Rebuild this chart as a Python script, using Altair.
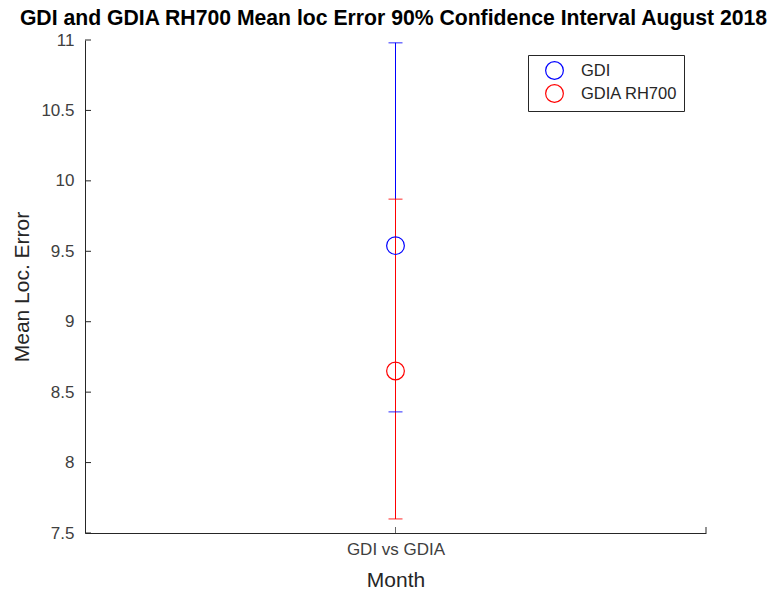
import altair as alt
import pandas as pd

series = ["GDI", "GDIA RH700"]
means = [9.54, 8.65]
lows = [8.36, 7.60]
highs = [10.98, 9.87]
category = "GDI vs GDIA"
y_ticks = [7.5, 8, 8.5, 9, 9.5, 10, 10.5, 11]
colors = ["#0000FF", "#FF0000"]

df = pd.DataFrame({
    "series": series,
    "mean": means,
    "lo": lows,
    "hi": highs,
    "cat": [category] * len(series),
})
ticks_df = pd.DataFrame({"v": y_ticks})

ink = "#262626"
font = "Liberation Sans"
W, H = 621, 493
yscale = alt.Scale(domain=[7.5, 11], nice=False, zero=False)
color_leg = alt.Color("series:N", scale=alt.Scale(domain=series, range=colors),
                      legend=alt.Legend(title=None, orient="none", legendX=443, legendY=15,
                                        strokeColor=ink, fillColor="white", padding=6,
                                        symbolType="circle", symbolSize=314, symbolStrokeWidth=1.2,
                                        labelFontSize=16.5, labelFont=font,
                                        labelColor=ink, rowPadding=0, symbolOffset=11,
                                        labelOffset=17, labelLimit=200))

xenc = alt.X("cat:N", title="Month", scale=alt.Scale(type="point"),
             axis=alt.Axis(labelAngle=0, labelAlign="center", labelPadding=16, titlePadding=12))
yenc = alt.Y("lo:Q", scale=yscale, title="Mean Loc. Error",
             axis=alt.Axis(values=y_ticks, format="~g", labelPadding=11, titlePadding=8))

base = alt.Chart(df)
err_layers = []
for s, c in zip(series, colors):
    sub = base.transform_filter(alt.datum.series == s)
    err_layers.append(sub.mark_bar(size=1, color=c, fill=c, stroke=None).encode(
        x=xenc, y=yenc, y2="hi:Q"))
for s, c in zip(series, colors):
    sub = base.transform_filter(alt.datum.series == s)
    for col in ["lo", "hi"]:
        err_layers.append(sub.mark_tick(orient="horizontal", size=14, thickness=1.2,
                                        color=c).encode(
            x="cat:N", y=alt.Y(f"{col}:Q", scale=yscale)))

points = base.mark_point(shape="circle", size=314, filled=False, strokeWidth=1.2, opacity=1).encode(
    x="cat:N", y=alt.Y("mean:Q", scale=yscale), color=color_leg)
inner_y = alt.Chart(ticks_df).mark_rule(color=ink, strokeWidth=1).encode(
    x=alt.value(0), x2=alt.value(6), y=alt.Y("v:Q", scale=yscale))
inner_x = alt.Chart(df.iloc[:1]).mark_tick(orient="vertical", size=6, thickness=1,
                                          color=ink).encode(
    x="cat:N", y=alt.value(H - 3))
end_x = alt.Chart(df.iloc[:1]).mark_rule(color=ink, strokeWidth=1).encode(
    x=alt.value(W), y=alt.value(H), y2=alt.value(H - 6))

chart = alt.layer(inner_y, inner_x, end_x, *err_layers, points).properties(
    width=W, height=H,
    title=alt.TitleParams("GDI and GDIA RH700 Mean loc Error 90% Confidence Interval August 2018",
                          fontSize=21.2, font=font, fontWeight="bold",
                          color="black", anchor="middle", offset=2, dx=-2),
    autosize=alt.AutoSizeParams(type="none"),
    padding={"left": 77, "top": 32, "right": 63, "bottom": 60},
).configure(background="white").configure_view(stroke=None).configure_axis(
    ticks=False, grid=False, domainColor=ink, domainWidth=1,
    labelFont=font, titleFont=font, labelFontSize=17, titleFontSize=21,
    labelColor="#404040", titleColor=ink, titleFontWeight="normal")

chart.save("out.html", embed_options={"renderer": "svg", "actions": False})
